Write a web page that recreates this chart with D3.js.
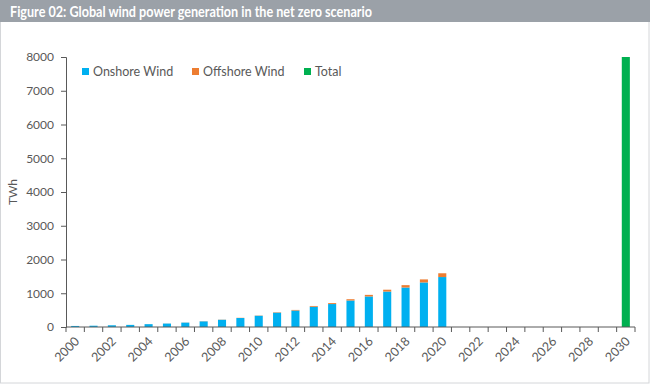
<!DOCTYPE html>
<html>
<head>
<meta charset="utf-8">
<script src="https://cdn.jsdelivr.net/npm/d3@7/dist/d3.min.js"></script>
<style>
  body { margin: 0; background: #fff; }
  svg { display: block; font-family: Lato, "Open Sans", sans-serif; }
</style>
</head>
<body>
<div id="chart"></div>
<script>
// Data (TWh).
const years = d3.range(2000, 2031);
const onshore = [31, 38, 51, 62, 84, 102, 130, 167, 214, 266, 333, 425, 488, 600, 680, 785, 905, 1050, 1170, 1320, 1480];
const offshore = [0, 0, 1, 1, 1, 2, 3, 4, 5, 6, 7, 12, 18, 23, 28, 38, 47, 55, 70, 90, 112];
const total2030 = 8000;
const seriesNames = ['Onshore Wind', 'Offshore Wind', 'Total'];
const colors = ['#00b0f0', '#ed7d31', '#00b050'];
const yTicks = [0, 1000, 2000, 3000, 4000, 5000, 6000, 7000, 8000];
const title = 'Figure 02: Global wind power generation in the net zero scenario';

const W = 650, H = 384;
const margin = {top: 57, right: 15, bottom: 57, left: 66};
const width = W - margin.left - margin.right;
const height = H - margin.top - margin.bottom;

const svgRoot = d3.select('#chart').append('svg')
    .attr('width', W)
    .attr('height', H);

// Frame and title bar.
svgRoot.append('rect')
    .attr('x', 0.5).attr('y', 0.5)
    .attr('width', W - 1.5).attr('height', H - 1.5)
    .attr('fill', '#fff')
    .attr('stroke', '#d4d6d9');
svgRoot.append('rect')
    .attr('x', 0).attr('y', 0)
    .attr('width', W).attr('height', 22)
    .attr('fill', '#9ba1a8');
svgRoot.append('text')
    .attr('x', 10).attr('y', 16.5)
    .attr('fill', '#fff')
    .attr('textLength', 362)
    .attr('lengthAdjust', 'spacingAndGlyphs')
    .style('font-size', '15px')
    .style('font-weight', 'bold')
    .text(title);

const svg = svgRoot.append('g')
    .attr('transform', `translate(${margin.left},${margin.top})`);

// Scales.
const x = d3.scaleBand()
    .domain(years)
    .range([0, width])
    .paddingInner(0.56)
    .paddingOuter(0.28);
const y = d3.scaleLinear()
    .domain([0, 8000])
    .range([height, 0]);

// Bars.
const stackData = years.slice(0, onshore.length).map((yr, i) => ({year: yr, on: onshore[i], off: offshore[i]}));
svg.append('g').selectAll('rect')
    .data(stackData)
    .join('rect')
    .attr('x', d => x(d.year))
    .attr('width', x.bandwidth())
    .attr('y', d => y(d.on))
    .attr('height', d => y(0) - y(d.on))
    .attr('fill', colors[0]);
svg.append('g').selectAll('rect')
    .data(stackData)
    .join('rect')
    .attr('x', d => x(d.year))
    .attr('width', x.bandwidth())
    .attr('y', d => y(d.on + d.off))
    .attr('height', d => y(d.on) - y(d.on + d.off))
    .attr('fill', colors[1]);
svg.append('rect')
    .attr('x', x(2030))
    .attr('width', x.bandwidth())
    .attr('y', y(total2030))
    .attr('height', y(0) - y(total2030))
    .attr('fill', colors[2]);

// Y axis.
const yAxis = svg.append('g')
    .call(d3.axisLeft(y).tickValues(yTicks).tickSize(5).tickPadding(7).tickFormat(d3.format('d')));
yAxis.select('.domain').attr('stroke', '#595959');
yAxis.selectAll('line').attr('stroke', '#595959');
yAxis.selectAll('text')
    .attr('fill', '#595959')
    .style('font-size', '12px')
    .style('font-family', 'Lato, sans-serif');

// X axis: boundary ticks and rotated labels.
const xAxis = svg.append('g').attr('transform', `translate(0,${height})`);
xAxis.append('line')
    .attr('x1', 0).attr('x2', width)
    .attr('stroke', '#595959');
xAxis.selectAll('.bt')
    .data(d3.range(years.length + 1))
    .join('line')
    .attr('class', 'bt')
    .attr('x1', i => i * x.step()).attr('x2', i => i * x.step())
    .attr('y1', 0).attr('y2', 5)
    .attr('stroke', '#595959');
xAxis.selectAll('.lbl')
    .data(years.filter(yr => yr % 2 === 0))
    .join('text')
    .attr('class', 'lbl')
    .attr('transform', d => `translate(${x(d) + x.bandwidth() / 2 + 5},${15}) rotate(-45)`)
    .attr('text-anchor', 'end')
    .attr('fill', '#595959')
    .style('font-size', '12.5px')
    .text(d => d);

// Y axis title.
svg.append('text')
    .attr('transform', `translate(${-49},${height / 2}) rotate(-90)`)
    .attr('text-anchor', 'middle')
    .attr('fill', '#595959')
    .style('font-size', '12px')
    .text('TWh');

// Legend.
const legendX = [16, 126, 238];
const legend = svg.append('g').selectAll('g')
    .data(seriesNames)
    .join('g')
    .attr('transform', (d, i) => `translate(${legendX[i]},11)`);
legend.append('rect')
    .attr('width', 7).attr('height', 7)
    .attr('fill', (d, i) => colors[i]);
legend.append('text')
    .attr('x', 11).attr('y', 7.5)
    .attr('fill', '#595959')
    .style('font-size', '12.5px')
    .text(d => d);
</script>
</body>
</html>
